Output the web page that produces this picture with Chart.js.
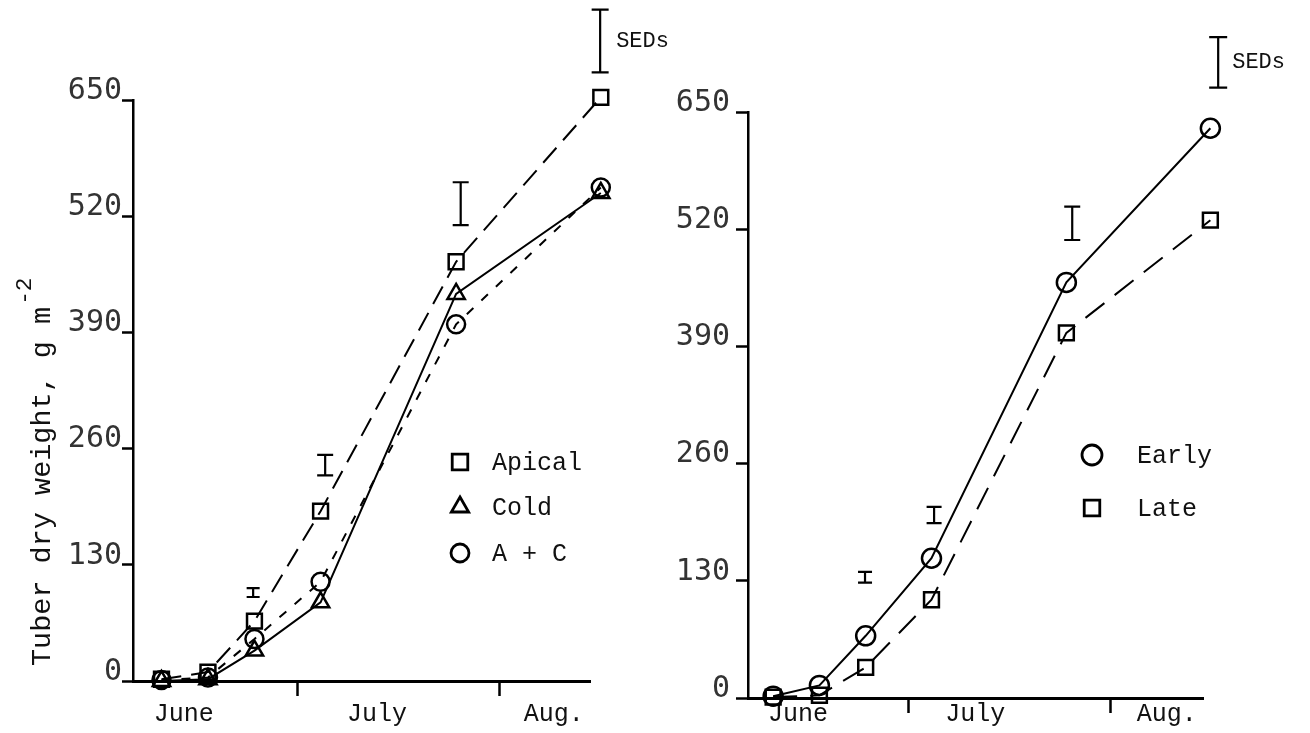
<!DOCTYPE html>
<html>
<head>
<meta charset="utf-8">
<script src="https://cdn.jsdelivr.net/npm/chart.js@4.4.0/dist/chart.umd.min.js"></script>
<style>
  html, body { margin: 0; padding: 0; background: #fff; }
  #wrap { position: relative; width: 1310px; height: 733px; overflow: hidden; background: #fff; }
  #left { position: absolute; left: 0; top: 0; }
  #right { position: absolute; left: 655px; top: 0; }
</style>
</head>
<body>
<div id="wrap">
  <canvas id="left" width="710" height="733"></canvas>
  <canvas id="right" width="655" height="733"></canvas>
</div>
<script>
// Harvest dates, in days from 1 June (1 July = 31, 1 Aug = 62)
const sampleDays = [10.3, 17.4, 24.5, 34.6, 55.3, 77.4];

// Tuber dry weight (g m-2) by seed treatment
const apical     = [2, 10, 67, 190, 469, 653];
const cold       = [0, 2, 34, 88, 433, 546];
const apicalCold = [1, 4, 47, 111, 399, 552];

// Tuber dry weight (g m-2) by planting date
const early = [2, 14, 69, 155, 461, 632];
const late  = [1, 3, 34, 109, 405, 530];

// Axis ticks
const yTicks = [0, 130, 260, 390, 520, 650];
const monthLabels = ['June', 'July', 'Aug.'];
const monthStarts = [31, 62];

// Standard errors of difference: day, lower and upper ends (g m-2)
const sedDaysTreat = [24.3, 35.3, 56.0, 77.3];
const sedLowTreat  = [94, 230, 510, 681];
const sedHighTreat = [104, 253, 558, 751];

const sedDaysDate = [24.4, 35.0, 56.2, 78.6];
const sedLowDate  = [128, 194, 508, 677];
const sedHighDate = [140, 212, 545, 733];

const MONO = 'Liberation Mono';

function xScale(min, max, centres, height, pad) {
  const marks = [
    { v: centres[0], l: monthLabels[0] },
    { v: monthStarts[0], l: '' },
    { v: centres[1], l: monthLabels[1] },
    { v: monthStarts[1], l: '' },
    { v: centres[2], l: monthLabels[2] }
  ];
  return {
    type: 'linear', min: min, max: max,
    afterBuildTicks: s => { s.ticks = marks.map(m => ({ value: m.v })); },
    afterFit: s => { s.height = height; },
    border: { display: true, color: '#000', width: 3 },
    grid: {
      drawOnChartArea: false, drawTicks: true, tickLength: 15, tickWidth: 2.5,
      tickColor: c => (c.index % 2 === 1 ? '#000' : 'rgba(0,0,0,0)')
    },
    ticks: {
      autoSkip: false, maxRotation: 0, minRotation: 0, padding: pad, color: '#111',
      font: { family: MONO, size: 25 },
      callback: (v, i) => (marks[i] ? marks[i].l : '')
    }
  };
}

function yScale(width, tickLen, pad) {
  return {
    type: 'linear', min: 0, max: 650,
    afterBuildTicks: s => { s.ticks = yTicks.map(v => ({ value: v })); },
    afterFit: s => { s.width = width; },
    border: { display: true, color: '#000', width: 2.5 },
    grid: { drawOnChartArea: false, tickLength: tickLen, tickWidth: 2.5, tickColor: '#000' },
    ticks: {
      padding: pad, labelOffset: -9, color: '#333',
      font: { family: 'DejaVu Sans Mono', size: 30 }
    }
  };
}

function series(label, values, style, radius, dash) {
  return {
    label: label,
    data: values.map((v, i) => ({ x: sampleDays[i], y: v })),
    borderColor: '#000', borderWidth: 2, borderDash: dash,
    pointStyle: style, pointRadius: radius, pointBorderWidth: 2.5,
    pointBackgroundColor: 'rgba(0,0,0,0)', pointBorderColor: '#000',
    fill: false, tension: 0, clip: false
  };
}

// Draw a hollow marker like the chart's own point styles
function marker(ctx, style, x, y, r) {
  ctx.beginPath();
  if (style === 'rect') {
    const h = r * Math.SQRT1_2;
    ctx.rect(x - h, y - h, 2 * h, 2 * h);
  } else if (style === 'triangle') {
    ctx.moveTo(x, y - r);
    ctx.lineTo(x + r * 0.866, y + r * 0.5);
    ctx.lineTo(x - r * 0.866, y + r * 0.5);
    ctx.closePath();
  } else {
    ctx.arc(x, y, r, 0, Math.PI * 2);
  }
  ctx.stroke();
}

const keyPlugin = {
  id: 'key',
  afterDraw(chart, args, o) {
    const ctx = chart.ctx;
    ctx.save();
    ctx.strokeStyle = '#000';
    ctx.lineWidth = 2.8;
    ctx.fillStyle = '#111';
    ctx.font = o.size + 'px "' + MONO + '"';
    ctx.textBaseline = 'middle';
    chart.data.datasets.forEach((ds, i) => {
      const y = o.ys[i];
      marker(ctx, ds.pointStyle, o.x, y, o.radius[i]);
      ctx.fillText(ds.label, o.textX, y + 1);
    });
    ctx.restore();
  }
};

const sedPlugin = {
  id: 'seds',
  afterDatasetsDraw(chart, args, o) {
    const { ctx, scales } = chart;
    const x = scales.x, y = scales.y;
    ctx.save();
    ctx.strokeStyle = '#000';
    ctx.lineWidth = 2.2;
    o.days.forEach((d, i) => {
      const px = x.getPixelForValue(d);
      const y1 = y.getPixelForValue(o.low[i]);
      const y2 = y.getPixelForValue(o.high[i]);
      const w = o.caps[i] / 2;
      ctx.beginPath();
      ctx.moveTo(px, y1); ctx.lineTo(px, y2);
      ctx.moveTo(px - w, y1); ctx.lineTo(px + w, y1);
      ctx.moveTo(px - w, y2); ctx.lineTo(px + w, y2);
      ctx.stroke();
    });
    // key entry for the bars
    const last = o.days.length - 1;
    const lx = x.getPixelForValue(o.days[last]);
    const ly = (y.getPixelForValue(o.low[last]) + y.getPixelForValue(o.high[last])) / 2;
    ctx.fillStyle = '#111';
    ctx.font = o.size + 'px "' + MONO + '"';
    ctx.textBaseline = 'middle';
    ctx.fillText('SEDs', lx + o.gap, ly);
    ctx.restore();
  }
};

const titlePlugin = {
  id: 'ytitle',
  afterDraw(chart, args, o) {
    if (!o.text) return;
    const ctx = chart.ctx;
    ctx.save();
    ctx.translate(o.x, o.y);
    ctx.rotate(-Math.PI / 2);
    ctx.fillStyle = '#111';
    ctx.font = o.size + 'px "' + MONO + '"';
    ctx.textBaseline = 'middle';
    ctx.fillText(o.text, 0, 0);
    const w = ctx.measureText(o.text).width;
    ctx.font = (o.size * 0.8) + 'px "' + MONO + '"';
    ctx.fillText(o.sup, w + 2, -17);
    ctx.restore();
  }
};

function makeChart(id, datasets, cfg) {
  return new Chart(document.getElementById(id), {
    type: 'line',
    data: { datasets: datasets },
    plugins: [sedPlugin, keyPlugin, titlePlugin],
    options: {
      responsive: false, animation: false, devicePixelRatio: 1,
      layout: { padding: cfg.padding },
      scales: { x: cfg.x, y: cfg.y },
      plugins: {
        legend: { display: false },
        tooltip: { enabled: false },
        seds: cfg.seds,
        key: cfg.key,
        ytitle: cfg.title || {}
      }
    }
  });
}

makeChart('left', [
  series('Apical', apical, 'rect', 10.5, [20, 10]),
  series('Cold', cold, 'triangle', 10, []),
  series('A + C', apicalCold, 'circle', 9, [9, 11])
], {
  padding: { left: 0, top: 100, right: 120, bottom: 0 },
  x: xScale(5.95, 75.75, [13.7, 43.2, 70.2], 52, 3),
  y: yScale(133, 11, 0),
  seds: { days: sedDaysTreat, low: sedLowTreat, high: sedHighTreat, caps: [13, 16, 16, 17], gap: 16, size: 22 },
  key: { x: 460, textX: 492, ys: [462, 507, 553], radius: [11, 10, 9], size: 25 },
  title: { text: 'Tuber dry weight, g m', sup: '-2', x: 42, y: 666, size: 28.5 }
});

makeChart('right', [
  series('Early', early, 'circle', 9.5, []),
  series('Late', late, 'rect', 10.5, [24, 13])
], {
  padding: { left: 0, top: 112, right: 107, bottom: 0 },
  x: xScale(6.44, 76.27, [14.1, 41.3, 70.7], 35, -14),
  y: yScale(93, 12, 6),
  seds: { days: sedDaysDate, low: sedLowDate, high: sedHighDate, caps: [14, 15, 16, 18], gap: 14, size: 22 },
  key: { x: 437, textX: 482, ys: [455, 508], radius: [10, 11], size: 25 }
});
</script>
</body>
</html>
